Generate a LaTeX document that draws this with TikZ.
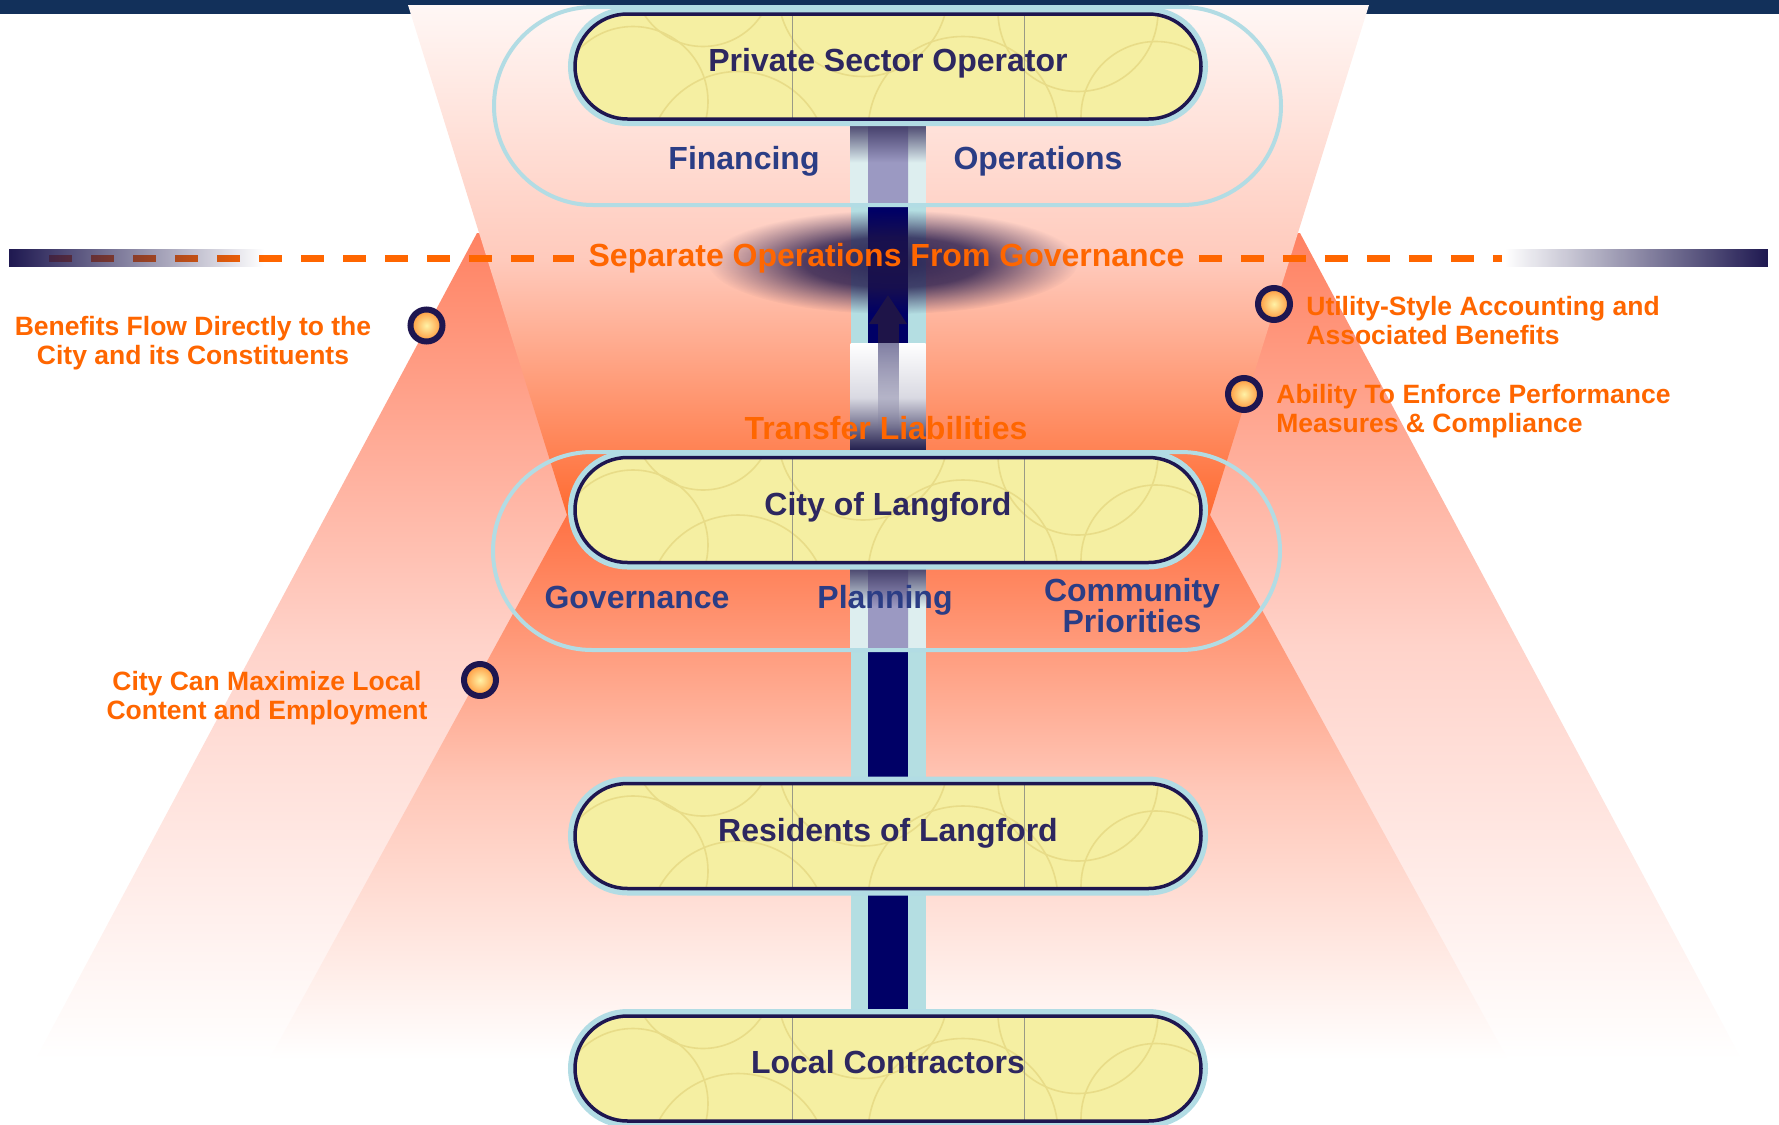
\documentclass[tikz,border=0pt]{standalone}
\usepackage{fontspec}
\setmainfont{Liberation Sans}
\usetikzlibrary{shapes.misc,arrows.meta,fadings}

\definecolor{bandnavy}{HTML}{12305A}
\definecolor{inknavy}{HTML}{1E1650}
\definecolor{pillfill}{HTML}{F5EFA2}
\definecolor{pillarc}{HTML}{E8DC88}
\definecolor{seamgray}{HTML}{9A9A86}
\definecolor{halo}{HTML}{B2DCE4}
\definecolor{stemblue}{HTML}{B4DEE2}
\definecolor{stemnavy}{HTML}{000066}
\definecolor{stemdusk}{HTML}{39335F}
\definecolor{stemmist}{HTML}{DDEEEF}
\definecolor{stemdeep}{HTML}{1C1848}
\definecolor{mistgray}{HTML}{D9D9E2}
\definecolor{lavender}{HTML}{9B99C2}
\definecolor{arrowink}{HTML}{1E1448}
\definecolor{shaftgray}{HTML}{6A6892}
\definecolor{titleink}{HTML}{2D2760}
\definecolor{labelink}{HTML}{2B3D85}
\definecolor{accent}{HTML}{FF6600}
\definecolor{barnavy}{HTML}{1E1850}
\definecolor{smoke}{HTML}{1E1448}
\definecolor{bulletcore}{HTML}{FFF2A6}
\definecolor{bulletrim}{HTML}{FF9438}
\definecolor{outertop}{HTML}{FF8262}
\definecolor{outermid}{HTML}{FFD3CA}
\definecolor{lowertop}{HTML}{FF7244}
\definecolor{lowermid}{HTML}{FFC7B8}
\definecolor{uppertop}{HTML}{FFF7F5}
\definecolor{uppermid}{HTML}{FFCABC}
\definecolor{upperlow}{HTML}{FF6A30}

\pgfdeclarelayer{backdrop}
\pgfdeclarelayer{stem}
\pgfsetlayers{backdrop,stem,main}

\tikzfading[name=fadeout right, left color=transparent!0, right color=transparent!100]
\tikzfading[name=fadeout left, left color=transparent!100, right color=transparent!0]
\tikzfading[name=fadedown, top color=transparent!15, bottom color=transparent!100]
\pgfdeclareradialshading{smokeshade}{\pgfpointorigin}{%
  color(0bp)=(pgftransparent!10); color(12bp)=(pgftransparent!22);
  color(19bp)=(pgftransparent!65); color(25bp)=(pgftransparent!100);
  color(50bp)=(pgftransparent!100)}
\pgfdeclarefading{smokefade}{\pgfuseshading{smokeshade}}

\tikzset{
  seam/.style={draw=seamgray, line width=0.4pt},
  pillbox/.style={rounded rectangle, draw=inknavy, line width=1.75pt, fill=pillfill,
    minimum width=313pt, minimum height=52.5pt, inner sep=0pt,
    text height=11.5pt, text depth=6.5pt,
    text=titleink, font=\fontsize{16}{19}\selectfont\bfseries,
    preaction={draw=halo, line width=7pt},
    path picture={
      \foreach \cx/\cy/\r in {-255/35/75,-150/95/90,-185/-90/70,-25/-75/85,75/65/95,190/-55/80,268/50/75}
        \draw[pillarc, line width=0.8pt] (path picture bounding box.center) ++(\cx,\cy) circle (\r);
      \foreach \sx in {-96,136}
        \draw[seam] (path picture bounding box.center) ++(\sx,-70) -- ++(0,140);
    }},
  groupring/.style={rounded rectangle, draw=halo, line width=2pt,
    minimum width=393.5pt, minimum height=99pt, inner sep=0pt},
  rolelabel/.style={text=labelink, font=\fontsize{16}{15.5}\selectfont\bfseries, align=center, inner sep=0pt},
  notelabel/.style={text=accent, font=\fontsize{13.25}{14.5}\selectfont\bfseries, align=center, inner sep=0pt},
  banner/.style={text=accent, font=\fontsize{16}{19}\selectfont\bfseries, inner sep=7pt},
  bulletdot/.style={circle, draw=inknavy, line width=3pt, minimum size=16pt, inner sep=0pt,
    inner color=bulletcore, outer color=bulletrim},
  stemouter/.style={draw=stemblue, line width=37.5pt},
  stemcore/.style={draw=stemnavy, line width=20pt},
  liftarrow/.style={draw=arrowink, line width=10.5pt, -{Triangle[width=18pt,length=14.5pt]}},
  sepline/.style={draw=accent, line width=3.75pt, dash pattern=on 11.5pt off 9.5pt}
}

\begin{document}
\begin{tikzpicture}[x=0.5pt,y=-0.5pt]
  \useasboundingbox (0,0) rectangle (1779,1125);

  \node[pillbox] (pso)         at (888,66.5)  {Private Sector Operator};
  \node[pillbox] (city)        at (888,510)   {City of Langford};
  \node[pillbox] (residents)   at (888,836)   {Residents of Langford};
  \node[pillbox] (contractors) at (888,1068.5){Local Contractors};

  \node[rolelabel] (financing)  at (744,161.5)  {Financing};
  \node[rolelabel] (operations) at (1038,161.5) {Operations};
  \node[rolelabel] (governance) at (637,597)    {Governance};
  \node[rolelabel] (planning)   at (885,600.5)  {Planning};
  \node[rolelabel] (priorities) at (1132,606)   {Community\\Priorities};

  \node[banner] (sepnote)  at (886.5,258.5) {Separate Operations From Governance};
  \node[banner] (transfer) at (886,428)     {Transfer Liabilities};

  \node[bulletdot] (dot1) at (426.5,325.5) {};
  \node[bulletdot] (dot2) at (480,680)     {};
  \node[bulletdot] (dot3) at (1274,304)    {};
  \node[bulletdot] (dot4) at (1244,394)    {};

  \node[notelabel] (note1) at (193,343) {Benefits Flow Directly to the\\City and its Constituents};
  \node[notelabel] (note2) at (267,698) {City Can Maximize Local\\Content and Employment};
  \node[notelabel, anchor=west, align=left] (note3) at (1306,321)   {Utility-Style Accounting and\\Associated Benefits};
  \node[notelabel, anchor=west, align=left] (note4) at (1276,411) {Ability To Enforce Performance\\Measures \& Compliance};

  \begin{pgfonlayer}{backdrop}
    \fill[bandnavy] (0,0) rectangle (1779,14);
    \shade[top color=outertop, bottom color=white, middle color=outermid]
      (477,233) -- (1300,233) -- (1742,1060) -- (35,1060) -- cycle;
    \shade[top color=lowertop, bottom color=white, middle color=lowermid]
      (567,515) -- (1210,515) -- (1508,1060) -- (269,1060) -- cycle;
    \shade[top color=uppertop, bottom color=upperlow, middle color=uppermid]
      (408,5) -- (1369,5) -- (1210,515) -- (567,515) -- cycle;
  \end{pgfonlayer}

  \begin{pgfonlayer}{stem}
    \foreach \a/\b in {pso/city,city/residents,residents/contractors}{
      \draw[stemouter] (\a.south) -- (\b.north);
      \draw[stemcore] (\a.south) -- (\b.north);
    }
    \foreach \ya/\yb in {120/205,564/650}{
      \shade[top color=stemdusk, bottom color=stemmist, middle color=stemmist] (850.5,\ya) rectangle (925.5,\yb);
      \shade[top color=stemdusk, bottom color=lavender, middle color=lavender] (868,\ya) rectangle (908,\yb);
    }
    \shade[top color=white, bottom color=stemdeep, middle color=mistgray] (850.5,343) rectangle (925.5,452);
    \fill[shaftgray, path fading=fadedown] (877.5,343) rectangle (898.5,432);
    \coordinate (lifttail) at (888,343);
    \coordinate (lifttip)  at (888,295);
    \draw[liftarrow] (lifttail) -- (lifttip);

    \node[groupring] (topgroup) at (887.5,106) {};
    \node[groupring] (midgroup) at (886.5,551) {};

    \fill[smoke, path fading=smokefade] (893,262) ellipse (185 and 52);

    \coordinate (dashstart) at (49,258.5);
    \coordinate (dashend)   at (1502,258.5);
    \draw[sepline] (dashstart) -- (sepnote.west);
    \draw[sepline] (sepnote.east) -- (dashend);
    \fill[barnavy, path fading=fadeout right] (9,249) rectangle (264,267);
    \fill[barnavy, path fading=fadeout left] (1505,249) rectangle (1768,267);
  \end{pgfonlayer}
\end{tikzpicture}
\end{document}
